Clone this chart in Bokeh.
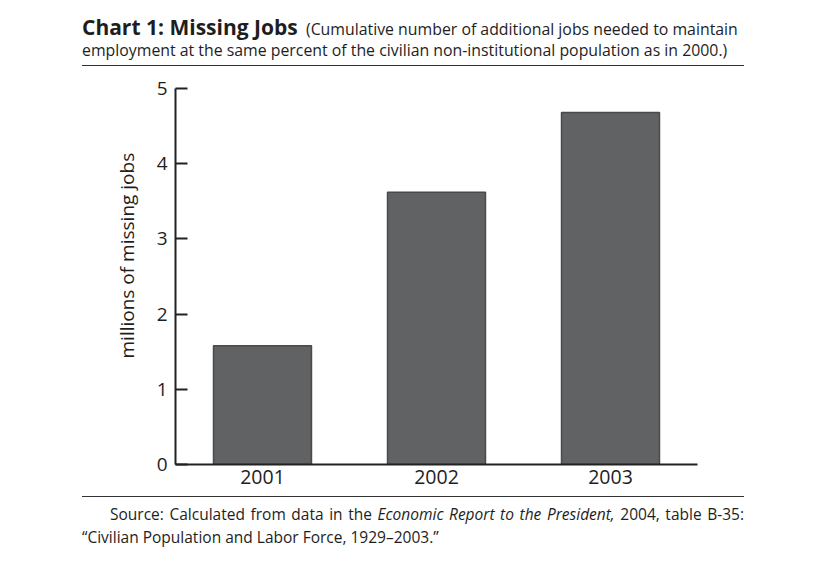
from bokeh.plotting import figure
from bokeh.models import FactorRange, Range1d, FixedTicker, Div, Title
from bokeh.layouts import column
from bokeh.embed import file_html
from bokeh.resources import INLINE

# ---- data ----
years = ["2001", "2002", "2003"]
missing_jobs = [1.58, 3.62, 4.68]
y_ticks = [0, 1, 2, 3, 4, 5]
y_label = "millions of missing jobs"

title_bold = "Chart 1: Missing Jobs"
title_rest_1 = "(Cumulative number of additional jobs needed to maintain"
title_rest_2 = "employment at the same percent of the civilian non-institutional population as in 2000.)"
src_1a = "Source: Calculated from data in the "
src_1b = "Economic Report to the President,"
src_1c = " 2004, table B-35:"
src_2 = "\u201cCivilian Population and Labor Force, 1929\u20132003.\u201d"

FONT = "'Open Sans'"
TXT = "#1e1e1e"
IB = "display:inline-block;vertical-align:baseline;overflow:visible;"

title_html = f"""
<div style="position:relative;width:837px;height:70px;font-family:{FONT};color:{TXT};">
  <div style="position:absolute;left:82px;top:17px;width:740px;font-size:15.85px;line-height:20px;white-space:nowrap;">
    <span style="{IB}font-weight:bold;font-size:21px;line-height:20px;height:20px;">{title_bold}</span>&nbsp;&nbsp;<span style="{IB}line-height:20px;height:20px;">{title_rest_1}</span>
  </div>
  <div style="position:absolute;left:82px;top:40px;width:740px;font-size:15.85px;line-height:20px;white-space:nowrap;">
    <span style="{IB}line-height:20px;height:20px;">{title_rest_2}</span>
  </div>
  <div style="position:absolute;left:82px;top:65px;width:662px;height:0;border-top:1.5px solid #333;"></div>
</div>
"""

source_html = f"""
<div style="position:relative;width:837px;height:72px;font-family:{FONT};color:{TXT};">
  <div style="position:absolute;left:82px;top:2px;width:662px;height:0;border-top:1.5px solid #333;"></div>
  <div style="position:absolute;left:110px;top:9px;width:634px;font-size:15.5px;line-height:23px;text-align:justify;text-align-last:justify;white-space:nowrap;">
    <span>{src_1a}<i>{src_1b}</i>{src_1c}</span>
  </div>
  <div style="position:absolute;left:82px;top:32px;width:662px;font-size:15.5px;line-height:23px;white-space:nowrap;">
    <span>{src_2}</span>
  </div>
</div>
"""

title_div = Div(text=title_html, width=837, height=70, margin=(0, 0, 0, 0))
source_div = Div(text=source_html, width=837, height=72, margin=(0, 0, 0, 0))

p = figure(
    x_range=FactorRange(factors=years, range_padding=0),
    y_range=Range1d(0, 5),
    width=837, height=424,
    output_backend="svg", toolbar_location=None,
    min_border_left=175, min_border_right=140,
    min_border_top=18, min_border_bottom=30,
    margin=(0, 0, 0, 0),
)

p.vbar(x=years, top=missing_jobs, width=0.563,
       fill_color="#616263", line_color="#4a4a4a", line_width=1.5)

p.outline_line_color = None
p.xgrid.grid_line_color = None
p.ygrid.grid_line_color = None
p.background_fill_color = "white"
p.border_fill_color = "white"

# y axis
p.yaxis.ticker = FixedTicker(ticks=y_ticks)
p.yaxis.major_label_text_font = "Open Sans"
p.yaxis.major_label_text_font_size = "19px"
p.yaxis.major_label_text_color = TXT
p.yaxis.major_label_standoff = 8
p.yaxis.major_tick_in = 12
p.yaxis.major_tick_out = 0
p.yaxis.minor_tick_line_color = None
p.yaxis.axis_line_width = 2
p.yaxis.axis_line_color = "#222222"
p.yaxis.major_tick_line_width = 2
p.yaxis.major_tick_line_color = "#222222"

# y axis title: a side title, placed a little above the frame centre as in the original
p.add_layout(Title(
    text=y_label, align="left", offset=106, standoff=27,
    text_font="Open Sans", text_font_size="19px", text_font_style="normal",
    text_color=TXT,
), "left")

# x axis
p.xaxis.major_label_text_font = "Open Sans"
p.xaxis.major_label_text_font_size = "19.5px"
p.xaxis.major_label_text_color = TXT
p.xaxis.major_label_standoff = 5
p.xaxis.major_tick_in = 0
p.xaxis.major_tick_out = 0
p.xaxis.axis_line_width = 2
p.xaxis.axis_line_color = "#222222"

layout = column(title_div, p, source_div, spacing=0, margin=(0, 0, 0, 0))

open("out.html", "w").write(file_html(layout, INLINE))
